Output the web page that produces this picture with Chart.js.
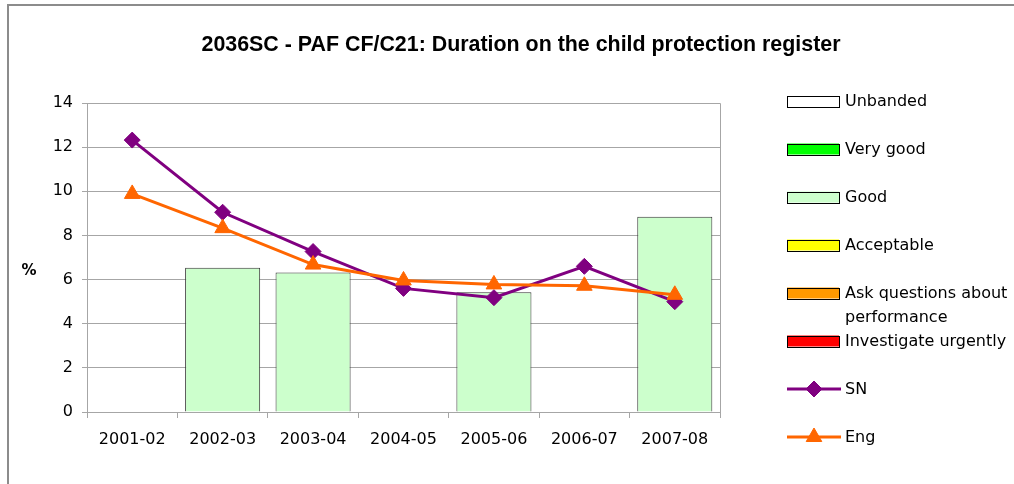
<!DOCTYPE html>
<html>
<head>
<meta charset="utf-8">
<script src="https://cdn.jsdelivr.net/npm/chart.js@4.4.1/dist/chart.umd.min.js"></script>
<style>
  html, body { margin: 0; padding: 0; background: #fff; }
  #wrap { width: 1014px; height: 484px; }
</style>
</head>
<body>
<div id="wrap"><canvas id="chart" width="1014" height="484"></canvas></div>
<script>
// categories
const years = ["2001-02", "2002-03", "2003-04", "2004-05", "2005-06", "2006-07", "2007-08"]

// banding bars (only "Good" has values)
const unbanded = [null, null, null, null, null, null, null]
const veryGood = [null, null, null, null, null, null, null]
const good = [null, 6.54, 6.32, null, 5.43, null, 8.85]
const acceptable = [null, null, null, null, null, null, null]
const askQuestions = [null, null, null, null, null, null, null]
const investigate = [null, null, null, null, null, null, null]

// lines
const sn = [12.32, 9.05, 7.27, 5.6, 5.18, 6.6, 5.0]
const eng = [9.88, 8.33, 6.68, 5.96, 5.78, 5.72, 5.31]

const yTicks = [0, 2, 4, 6, 8, 10, 12, 14]

const titleText = "2036SC - PAF CF/C21: Duration on the child protection register"
const yTitle = "%"

const gridGray = "#a6a6a6"
const legendFont = "16px 'DejaVu Sans'"

function bar(label, data, color) {
  return {
    type: "bar",
    label,
    data,
    backgroundColor: color,
    borderColor: "#333333",
    borderWidth: 1,
    grouped: false,
    barPercentage: 0.83,
    categoryPercentage: 1,
    order: 10,
  }
}

// frame, titles, plot border and the Excel-style legend
const extras = {
  id: "extras",
  beforeDraw(chart) {
    const c = chart.ctx
    c.save()
    c.strokeStyle = "#8c8c8c"
    c.lineWidth = 2
    c.strokeRect(8, 5, 1020, 500)
    c.fillStyle = "#000"
    c.textAlign = "center"
    c.textBaseline = "middle"
    c.font = "bold 21.4px 'Liberation Sans', Arial"
    c.fillText(titleText, 521, 45)
    c.font = "bold 15px 'DejaVu Sans'"
    c.fillText(yTitle, 29, 271)
    c.restore()
  },
  beforeDatasetsDraw(chart) {
    const a = chart.chartArea
    const c = chart.ctx
    c.save()
    c.strokeStyle = gridGray
    c.lineWidth = 1
    c.beginPath()
    c.moveTo(Math.round(a.left) + 0.5, Math.round(a.top) + 0.5)
    c.lineTo(Math.round(a.right) + 0.5, Math.round(a.top) + 0.5)
    c.lineTo(Math.round(a.right) + 0.5, Math.round(a.bottom) + 0.5)
    c.stroke()
    c.restore()
  },
  afterDraw(chart) {
    const c = chart.ctx
    const boxX = 787, boxW = 52, boxH = 11, textX = 845, maxW = 166
    let y = 101
    c.save()
    c.font = legendFont
    c.textBaseline = "middle"
    chart.data.datasets.forEach(ds => {
      if (ds.type === "bar") {
        c.fillStyle = ds.backgroundColor
        c.fillRect(boxX, y - boxH / 2, boxW, boxH)
        c.strokeStyle = "#000"
        c.lineWidth = 1
        c.strokeRect(boxX + 0.5, Math.round(y - boxH / 2) + 0.5, boxW, boxH)
      } else {
        c.strokeStyle = ds.borderColor
        c.lineWidth = 3
        c.beginPath()
        c.moveTo(boxX, y)
        c.lineTo(boxX + boxW + 2, y)
        c.stroke()
        c.fillStyle = ds.backgroundColor
        c.lineWidth = 1
        Chart.helpers.drawPoint(c, {
          pointStyle: ds.pointStyle,
          radius: ds.pointRadius,
          rotation: 0,
          borderWidth: 1,
        }, boxX + boxW / 2 + 1, y)
      }
      // simple word wrap
      const words = ds.label.split(" ")
      const lines = []
      let cur = ""
      words.forEach(w => {
        const t = cur ? cur + " " + w : w
        if (c.measureText(t).width > maxW && cur) {
          lines.push(cur)
          cur = w
        } else cur = t
      })
      lines.push(cur)
      c.fillStyle = "#000"
      lines.forEach((l, i) => c.fillText(l, textX, y + 1 + i * 24))
      y += 48
    })
    c.restore()
  },
}

new Chart(document.getElementById("chart"), {
  data: {
    labels: years,
    datasets: [
      bar("Unbanded", unbanded, "#ffffff"),
      bar("Very good", veryGood, "#00ff00"),
      bar("Good", good, "#ccffcc"),
      bar("Acceptable", acceptable, "#ffff00"),
      bar("Ask questions about performance", askQuestions, "#ff9900"),
      bar("Investigate urgently", investigate, "#ff0000"),
      {
        type: "line",
        label: "SN",
        data: sn,
        borderColor: "#800080",
        backgroundColor: "#800080",
        borderWidth: 3,
        pointStyle: "rectRot",
        pointRadius: 8,
        pointHoverRadius: 8,
        pointBorderWidth: 1,
        tension: 0,
        order: 2,
      },
      {
        type: "line",
        label: "Eng",
        data: eng,
        borderColor: "#ff6600",
        backgroundColor: "#ff6600",
        borderWidth: 3,
        pointStyle: "triangle",
        pointRadius: 9,
        pointHoverRadius: 9,
        pointBorderWidth: 1,
        tension: 0,
        order: 1,
      },
    ],
  },
  options: {
    responsive: false,
    devicePixelRatio: 1,
    animation: false,
    layout: { padding: { left: 0, right: 294, top: 103, bottom: 0 } },
    plugins: {
      legend: { display: false },
      tooltip: { enabled: false },
      title: { display: false },
    },
    scales: {
      x: {
        offset: true,
        grid: {
          offset: true,
          drawOnChartArea: false,
          color: gridGray,
          tickLength: 6,
        },
        border: { color: gridGray },
        ticks: {
          color: "#000",
          font: { family: "'DejaVu Sans'", size: 16 },
          padding: 12,
          maxRotation: 0,
        },
        afterFit(scale) { scale.height = 72 },
      },
      y: {
        min: 0,
        max: 14,
        afterBuildTicks(scale) { scale.ticks = yTicks.map(v => ({ value: v })) },
        grid: { color: gridGray, tickLength: 5 },
        border: { color: gridGray },
        ticks: {
          color: "#000",
          font: { family: "'DejaVu Sans'", size: 16 },
          padding: 9,
        },
        afterFit(scale) { scale.width = 87 },
      },
    },
  },
  plugins: [extras],
})
</script>
</body>
</html>
